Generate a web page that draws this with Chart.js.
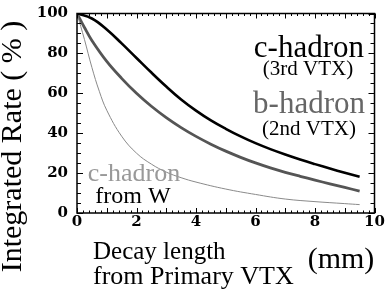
<!DOCTYPE html>
<html><head><meta charset="utf-8">
<script src="https://cdn.jsdelivr.net/npm/chart.js@4/dist/chart.umd.min.js"></script>
<style>html,body{margin:0;padding:0;background:#fff;}canvas{display:block;}</style>
</head><body>
<canvas id="c" width="392" height="296"></canvas>
<script>
// ---- data ----
const xTickLabels = [0, 2, 4, 6, 8, 10];
const yTickLabels = [0, 20, 40, 60, 80, 100];

const decayX = [0, 0.5, 1, 1.5, 2, 2.5, 3, 3.5, 4, 4.5, 5, 5.5, 6, 6.5, 7, 7.5, 8, 8.5, 9, 9.5];
const cHadron3rd = [100, 97.5, 92, 85, 77.7, 70.4, 63.4, 56.9, 51.3, 46.4, 42.2, 38.4, 35.0, 32.0, 29.3, 26.8, 24.5, 22.3, 20.2, 18.2];

const decayXb = [0, 0.25, 0.5, 1, 1.5, 2, 2.5, 3, 3.5, 4, 4.5, 5, 5.5, 6, 6.5, 7, 7.5, 8, 8.5, 9, 9.5];
const bHadron2nd = [100, 93, 86.5, 76, 67.5, 60, 53.5, 47.8, 42.8, 38.4, 34.5, 31, 27.9, 25.1, 22.6, 20.4, 18.4, 16.5, 14.6, 12.8, 11];

const decayXW = [0, 0.25, 0.5, 0.75, 1, 1.5, 2, 2.5, 3, 3.5, 4, 5, 6, 7, 8, 9, 9.5];
const cHadronW = [100, 87, 73, 61, 51.5, 38.5, 30, 24.5, 20.5, 17.7, 15.5, 12, 9.3, 7, 5.7, 4.7, 4.2];

const pts = (xs, ys) => xs.map((x, i) => ({ x: x, y: ys[i] }));

const SERIF = "'Liberation Serif', 'Times New Roman', serif";

const framePlugin = {
  id: 'frame',
  afterDatasetsDraw(chart) {
    const { ctx, chartArea: a, scales: { x, y } } = chart;
    ctx.save();
    ctx.strokeStyle = '#000';
    ctx.lineWidth = 1;
    ctx.beginPath();
    for (let i = 0; i <= 50; i++) {
      const px = Math.round(x.getPixelForValue(i * 0.2)) + 0.5;
      const len = (i % 5 === 0) ? 5 : 2.5;
      ctx.moveTo(px, a.bottom); ctx.lineTo(px, a.bottom - len);
      ctx.moveTo(px, a.top); ctx.lineTo(px, a.top + len);
    }
    for (let i = 0; i <= 20; i++) {
      const py = Math.round(y.getPixelForValue(i * 5)) + 0.5;
      const len = (i % 4 === 0) ? 6 : 4;
      ctx.moveTo(a.left, py); ctx.lineTo(a.left + len, py);
      ctx.moveTo(a.right, py); ctx.lineTo(a.right - len, py);
    }
    ctx.stroke();
    ctx.lineWidth = 1.5;
    ctx.strokeRect(a.left, a.top, a.right - a.left, a.bottom - a.top);
    ctx.restore();
  },
  afterDraw(chart) {
    const ctx = chart.ctx;
    ctx.save();
    ctx.textBaseline = 'alphabetic';
    const t = (s, x, y, size, color, align) => {
      ctx.font = size + 'px ' + SERIF;
      ctx.fillStyle = color;
      ctx.textAlign = align || 'center';
      ctx.fillText(s, x, y);
    };
    // in-plot labels
    t('c-hadron', 364, 57, 31, '#000', 'right');
    t('(3rd VTX)', 308, 75, 21, '#000');
    t('b-hadron', 365, 113, 31, '#666', 'right');
    t('(2nd VTX)', 309, 135, 21, '#000');
    t('c-hadron', 134, 181, 26, '#999');
    t('from W', 133, 203, 24, '#000');
    // x axis title
    t('Decay length', 93, 259, 25, '#000', 'left');
    t('from Primary VTX', 93, 284, 26, '#000', 'left');
    t('(mm)', 341, 268, 30, '#000');
    // y axis title
    ctx.translate(21, 146.5);
    ctx.rotate(-Math.PI / 2);
    t('Integrated Rate ( % )', 0, 0, 30, '#000');
    ctx.restore();
  }
};

const tickFont = { family: "'DejaVu Serif', serif", size: 15, weight: 'bold', lineHeight: 0.6 };

new Chart(document.getElementById('c'), {
  type: 'line',
  data: {
    datasets: [
      { label: 'c-hadron from W', data: pts(decayXW, cHadronW), borderColor: '#8a8a8a', borderWidth: 1, pointRadius: 0, tension: 0.4, fill: false },
      { label: 'b-hadron (2nd VTX)', data: pts(decayXb, bHadron2nd), borderColor: '#555', borderWidth: 2.8, pointRadius: 0, tension: 0.4, fill: false },
      { label: 'c-hadron (3rd VTX)', data: pts(decayX, cHadron3rd), borderColor: '#000', borderWidth: 2.6, pointRadius: 0, tension: 0.4, fill: false }
    ]
  },
  options: {
    responsive: false,
    animation: false,
    devicePixelRatio: 1,
    layout: { padding: { left: 0, right: 17.5, top: 4, bottom: 0 } },
    plugins: { legend: { display: false }, tooltip: { enabled: false } },
    scales: {
      x: {
        type: 'linear', min: 0, max: 10,
        grid: { display: false, drawTicks: false },
        border: { display: false },
        afterBuildTicks: s => { s.ticks = xTickLabels.map(v => ({ value: v })); },
        ticks: { font: tickFont, color: '#000', padding: 5, maxRotation: 0, autoSkip: false },
        afterFit: s => { s.height = 83; }
      },
      y: {
        type: 'linear', min: 0, max: 100,
        grid: { display: false, drawTicks: false },
        border: { display: false },
        afterBuildTicks: s => { s.ticks = yTickLabels.map(v => ({ value: v })); },
        ticks: { font: tickFont, color: '#000', padding: 9, autoSkip: false },
        afterFit: s => { s.width = 77; }
      }
    }
  },
  plugins: [framePlugin]
});
</script>
</body></html>
